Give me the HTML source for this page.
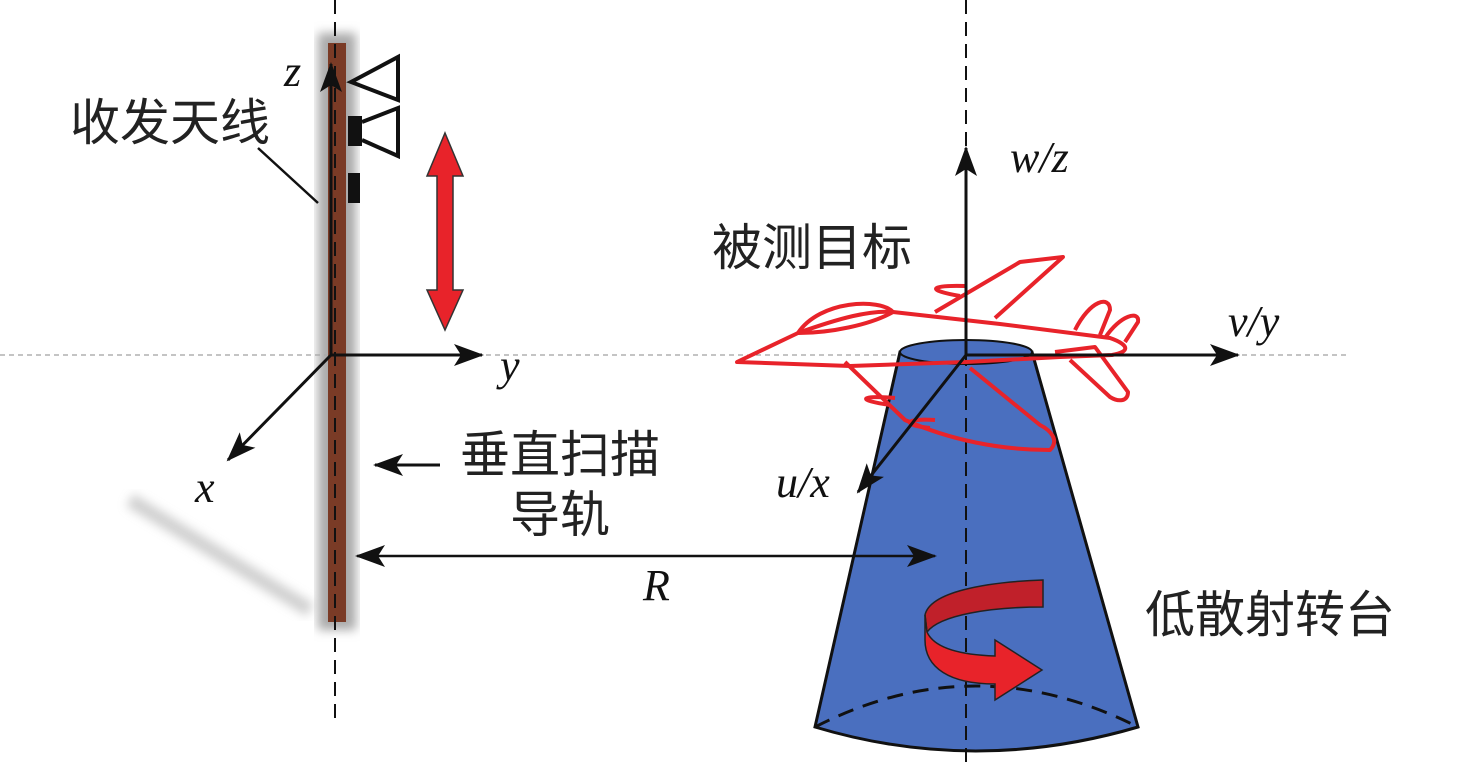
<!DOCTYPE html>
<html><head><meta charset="utf-8"><style>
html,body{margin:0;padding:0;background:#fff;}
svg{display:block}
.cn{font-family:"Liberation Sans","Noto Sans CJK SC",sans-serif;font-size:50px;fill:#222}
.it{font-family:"Liberation Serif",serif;font-style:italic;font-size:44px;fill:#111}
</style></head><body>
<svg width="1476" height="763" viewBox="0 0 1476 763" xmlns="http://www.w3.org/2000/svg">
<defs>
<marker id="ahb" markerWidth="30" markerHeight="22" refX="28" refY="11" orient="auto" markerUnits="userSpaceOnUse"><path d="M0,0 L30,11 L0,22 L7,11 Z" fill="#111"/></marker>
<marker id="ahs" markerWidth="30" markerHeight="22" refX="2" refY="11" orient="auto" markerUnits="userSpaceOnUse"><path d="M30,0 L0,11 L30,22 L23,11 Z" fill="#111"/></marker>
<filter id="bl"><feGaussianBlur stdDeviation="5"/></filter>
</defs>
<path d="M130,500 L310,610" stroke="#bbb" stroke-width="14" filter="url(#bl)" opacity="0.7"/>
<line x1="0" y1="355" x2="1350" y2="355" stroke="#888" stroke-width="1" stroke-dasharray="5,4"/>
<rect x="318" y="33" width="38" height="597" fill="#aaa" filter="url(#bl)"/>
<rect x="328" y="43" width="18" height="579" fill="#7a3b26"/>
<line x1="335" y1="0" x2="335" y2="720" stroke="#111" stroke-width="2" stroke-dasharray="14,8"/>
<line x1="331" y1="355" x2="331" y2="64" stroke="#111" stroke-width="3" marker-end="url(#ahb)"/>
<path d="M351,82 L398,57 L398,100 Z" fill="none" stroke="#111" stroke-width="4"/>
<rect x="348" y="116" width="14" height="30" fill="#111"/>
<path d="M362,122 L398,108 L398,156 L362,140" fill="none" stroke="#111" stroke-width="4"/>
<rect x="348" y="173" width="12" height="30" fill="#111"/>
<path d="M445,133 L463,176 L453,176 L453,290 L463,290 L445,330 L427,290 L437,290 L437,176 L427,176 Z" fill="#e8232a" stroke="#333" stroke-width="1.5"/>
<line x1="331" y1="355" x2="482" y2="355" stroke="#111" stroke-width="3" marker-end="url(#ahb)"/>
<line x1="331" y1="355" x2="228" y2="460" stroke="#111" stroke-width="3" marker-end="url(#ahb)"/>
<text x="284" y="86" class="it">z</text>
<text x="500" y="380" class="it">y</text>
<text x="195" y="502" class="it">x</text>
<text x="70" y="140" class="cn">收发天线</text>
<line x1="258" y1="148" x2="318" y2="203" stroke="#111" stroke-width="2.5"/>
<text x="460" y="472" class="cn">垂直扫描</text>
<text x="510" y="532" class="cn">导轨</text>
<line x1="440" y1="465" x2="375" y2="465" stroke="#111" stroke-width="3" marker-end="url(#ahb)"/>
<text x="643" y="600" class="it">R</text>
<path d="M900,352 L815,727 Q975,775 1138,727 L1032,352 Z" fill="#4a6fbf" stroke="#111" stroke-width="3"/>
<ellipse cx="966" cy="352" rx="66" ry="12" fill="#4a6fbf" stroke="#111" stroke-width="2"/>
<path d="M815,727 Q975,645 1138,727" fill="none" stroke="#111" stroke-width="3" stroke-dasharray="16,10"/>
<line x1="966" y1="0" x2="966" y2="763" stroke="#111" stroke-width="2" stroke-dasharray="14,8"/>
<line x1="357" y1="556" x2="935" y2="556" stroke="#111" stroke-width="2.5" marker-start="url(#ahs)" marker-end="url(#ahb)"/>
<g fill="none" stroke="#e8232a" stroke-width="4" stroke-linejoin="round">
<path d="M737,362 L798,333 C840,318 870,310 893,312 L1000,324 L1110,338 C1130,345 1130,352 1112,355 L1060,357 L966,362 L850,366 Z"/>
<path d="M798,333 C820,300 880,298 893,312 C870,325 830,333 798,333"/>
<path d="M935,312 L1020,262 L1063,257 L995,318"/>
<path d="M960,296 C925,290 930,285 965,286"/>
<path d="M845,362 L905,420 C950,440 1000,450 1050,450 C1060,440 1050,430 1040,425 L970,368"/>
<path d="M890,405 C855,400 860,395 895,398"/>
<path d="M930,428 C900,425 905,418 935,420"/>
<path d="M1075,330 C1090,300 1110,295 1110,310 L1100,335"/>
<path d="M1105,338 C1120,315 1140,310 1138,322 L1125,342"/>
<path d="M1055,352 L1095,347 L1128,392 C1128,402 1118,402 1110,397 L1070,360"/>
</g>
<line x1="966" y1="355" x2="966" y2="148" stroke="#111" stroke-width="3" marker-end="url(#ahb)"/>
<line x1="966" y1="355" x2="1238" y2="355" stroke="#111" stroke-width="3" marker-end="url(#ahb)"/>
<line x1="966" y1="355" x2="858" y2="492" stroke="#111" stroke-width="3" marker-end="url(#ahb)"/>
<text x="1010" y="172" class="it">w/z</text>
<text x="1228" y="336" class="it">v/y</text>
<text x="776" y="497" class="it">u/x</text>
<text x="712" y="265" class="cn">被测目标</text>
<text x="1145" y="632" class="cn">低散射转台</text>
<path d="M1043,580 L1043,607 C990,607 940,615 927,632 L925,615 C930,592 985,582 1043,580 Z" fill="#c0202a" stroke="#222" stroke-width="1.5"/>
<path d="M925,615 L927,632 C935,650 965,655 995,656 L995,640 L1042,670 L995,700 L995,684 C950,684 925,668 925,640 Z" fill="#e8232a" stroke="#222" stroke-width="1.5"/>
</svg>
</body></html>
